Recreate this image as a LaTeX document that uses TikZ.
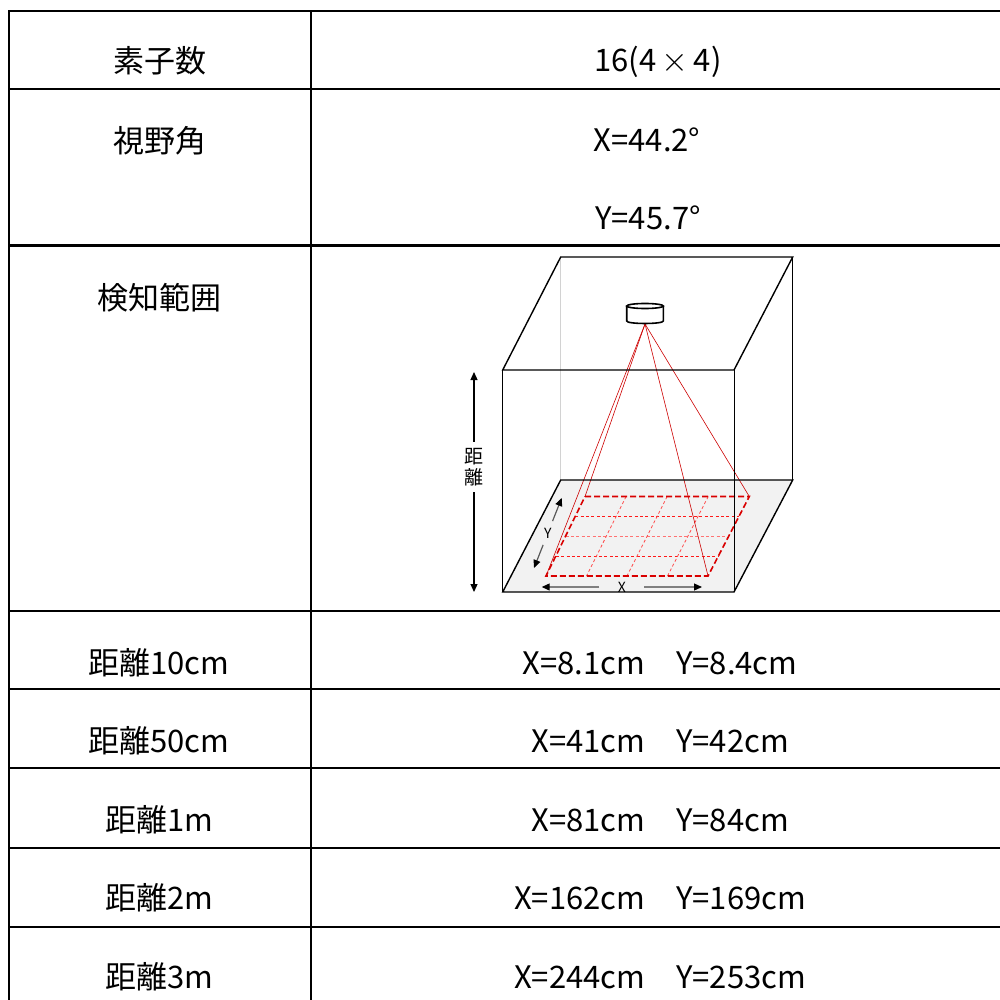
\documentclass[tikz,border=0pt]{standalone}
\usepackage{fontspec}
\setmainfont{Noto Sans CJK JP}
\usepackage{tikz}
\usetikzlibrary{arrows.meta}
\usetikzlibrary{calc}
\tikzset{
    table text/.style={
        font=\fontsize{15.5}{18}\selectfont,
        inner sep=0pt
    },
    table rule/.style={
        line width=1.1pt
    },
    cube edge/.style={
        line width=0.7pt
    },
    cube thin/.style={
        line width=0.45pt
    },
    grid outer/.style={
        red!85!black,
        line width=0.8pt,
        dash pattern=on 3pt off 1.5pt
    },
    grid inner/.style={
        line width=0.4pt,
        dash pattern=on 1.5pt off 1.2pt
    },
    ray/.style={
        red!80!black,
        line width=0.3pt
    },
    dim arrow/.style={
        line width=0.6pt,
        -{Triangle[length=4pt,width=3.5pt,color=black]}
    },
    label text/.style={
        font=\fontsize{7}{8}\selectfont,
        inner sep=1pt
    }
}

\begin{document}
\begin{tikzpicture}[x=0.5pt,y=-0.5pt]
            \useasboundingbox (0,0) rectangle (1000,1000);
            \draw[table rule] (1000,11) -- (9,11) -- (9,1000);
            \draw[table rule] (311,11) -- (311,1000);
            \foreach \y in {89,245.5,611,689,768,848,927}
              \draw[table rule] (9,\y) -- (1000,\y);
            \node[table text] (elem) at (160,61) {素子数};
            \node[table text] (elem-val) at (658,62) {16(4\,\scalebox{1.2}{$\times$}\,4)};
            \node[table text] (fov) at (160,141) {視野角};
            \node[table text] (fov-x) at (647,140) {X=44.2°};
            \node[table text] (fov-y) at (648,218) {Y=45.7°};
            \node[table text] (range) at (159,298) {検知範囲};
            \foreach \y/\d/\v in {663/10cm/{X=8.1cm　Y=8.4cm},741/50cm/{X=41cm　Y=42cm},820/1m/{X=81cm　Y=84cm},898/2m/{X=162cm　Y=169cm},977/3m/{X=244cm　Y=253cm}}
              {
              \node[table text] (dist-\d) at (159,\y) {距離\d};
              \node[table text] (size-\d) at (660,\y) {\v};
              }
            \coordinate (ftl) at (502.7,370);
            \coordinate (ftr) at (734,370);
            \coordinate (fbl) at (502.7,592);
            \coordinate (fbr) at (734,592);
            \coordinate (btl) at (560.7,257);
            \coordinate (btr) at (792.7,257);
            \coordinate (bbl) at (560.7,480);
            \coordinate (bbr) at (792.7,480);
            \fill[gray!10] (fbl) -- (fbr) -- (bbr) -- (bbl) -- cycle;
            \coordinate (g1) at (585,496.5);
            \coordinate (g2) at (749.3,496.5);
            \coordinate (g3) at (708,576);
            \coordinate (g4) at (546,576);
            \foreach \t/\c in {0.25/red!90,0.5/red!55,0.75/red!90}
              \draw[grid inner,\c] ($(g1)!\t!(g4)$) -- ($(g2)!\t!(g3)$);
            \foreach \t in {0.25,0.5,0.75}
              \draw[grid inner,red!70] ($(g1)!\t!(g2)$) -- ($(g4)!\t!(g3)$);
            \draw[grid outer] (g1) -- (g2) -- (g3) -- (g4) -- cycle;
            \coordinate (lens) at (645,324);
            \foreach \c in {g1,g2,g3,g4}
              \draw[ray] (lens) -- (\c);
            \draw[cube thin,gray!35] (btl) -- (bbl);
            \draw[cube thin] (btr) -- (bbr) (ftl) -- (fbl) (ftr) -- (fbr);
            \draw[cube edge] (ftl) -- (ftr) -- (btr) -- (btl) -- cycle;
            \draw[cube edge] (fbl) -- (fbr) -- (bbr) -- (bbl) -- cycle;
            \filldraw[fill=white,line width=0.8pt] (626.7,306) -- (626.7,321) .. controls (626.7,324.3) and (663.3,324.3) .. (663.3,321) -- (663.3,306);
            \draw[fill=white,line width=0.8pt] (645,306) ellipse [x radius=18.3, y radius=2.5];
            \coordinate (y-back) at (561.7,498);
            \coordinate (y-front) at (534,568);
            \node[label text] (y-lab) at ($(y-back)!0.5!(y-front)$) {Y};
            \draw[dim arrow,gray!70!black] ($(y-back)!0.33!(y-front)$) -- (y-back);
            \draw[dim arrow,gray!70!black] ($(y-back)!0.67!(y-front)$) -- (y-front);
            \coordinate (x-left) at (541.7,587);
            \coordinate (x-right) at (702,587);
            \node[label text,inner xsep=9pt] (x-lab) at ($(x-left)!0.5!(x-right)$) {X};
            \draw[dim arrow,gray] (x-lab.west) -- (x-left);
            \draw[dim arrow,gray] (x-lab.east) -- (x-right);
            \coordinate (d-top) at (474,372);
            \coordinate (d-bottom) at (474,592);
            \node[align=center,font=\fontsize{9.5}{10.5}\selectfont,inner sep=0pt,minimum height=25pt] (d-lab) at (474,467) {距\\離};
            \draw[dim arrow] (d-lab.north) -- (d-top);
            \draw[dim arrow] (d-lab.south) -- (d-bottom);
          \end{tikzpicture}
\end{document}
